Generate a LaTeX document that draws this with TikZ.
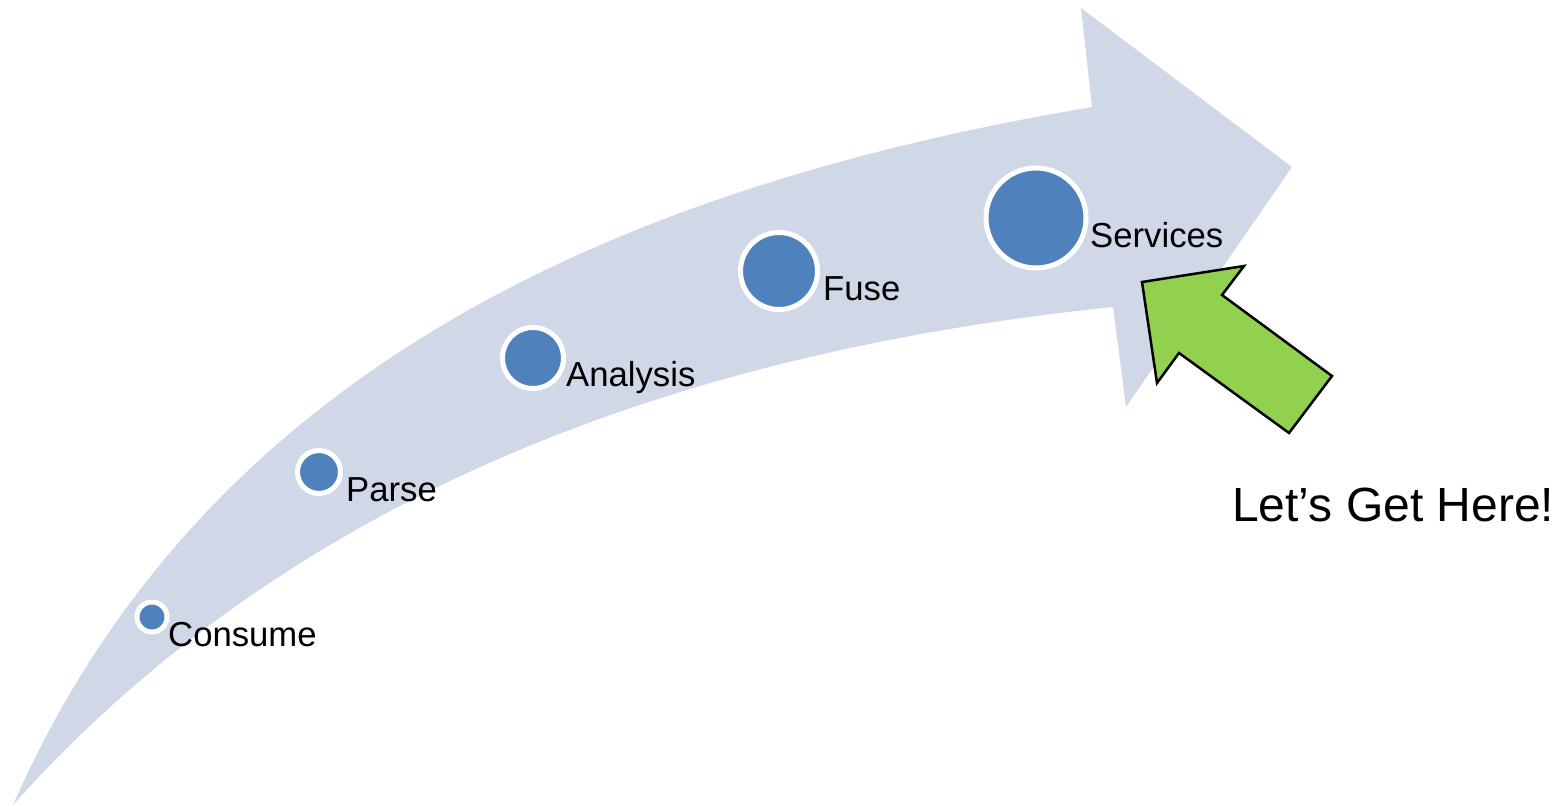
\documentclass[tikz,border=0pt]{standalone}
\usepackage{fontspec}
\setmainfont{Liberation Sans}
\definecolor{bandblue}{HTML}{D0D8E8}
\definecolor{dotblue}{HTML}{4F81BD}
\definecolor{pointgreen}{HTML}{92D050}
\tikzset{
  dot/.style={circle, fill=dotblue, draw=white, line width=5pt, inner sep=0pt},
  lbl/.style={font=\fontsize{34.7}{40}\selectfont, inner sep=0pt, anchor=base west},
  pointer/.style={fill=pointgreen, draw=black, line width=2.5pt, line join=miter},
}
\begin{document}
\begin{tikzpicture}[x=1pt, y=-1pt]
    \useasboundingbox (0,0) rectangle (1566,806);
    \fill[bandblue] (13,805) .. controls (200,380) and (600,190) .. (1092,107)
        -- (1081,8) -- (1292,167) -- (1126,407) -- (1113,307)
        .. controls (600,360) and (250,540) .. (13,805) -- cycle;
    \node[dot, minimum size=30] (consume) at (152,617) {};
    \node[dot, minimum size=43] (parse) at (319,472) {};
    \node[dot, minimum size=61] (analysis) at (533,358) {};
    \node[dot, minimum size=77] (fuse) at (779,271) {};
    \node[dot, minimum size=100] (services) at (1036,218) {};
    \node[lbl] (consumetext) at (168,646) {Consume};
    \node[lbl] (parsetext) at (346,501) {Parse};
    \node[lbl] (analysistext) at (566,386) {Analysis};
    \node[lbl] (fusetext) at (823,300) {Fuse};
    \node[lbl] (servicestext) at (1090,247) {Services};
    \draw[pointer] (1142,282) -- (1244,266) -- (1222,295) -- (1332,376)
        -- (1289,433) -- (1179,353) -- (1157,383) -- cycle;
    \node[lbl, font=\fontsize{48}{56}\selectfont] (goal) at (1232,521) {Let’s Get Here!};
\end{tikzpicture}
\end{document}
